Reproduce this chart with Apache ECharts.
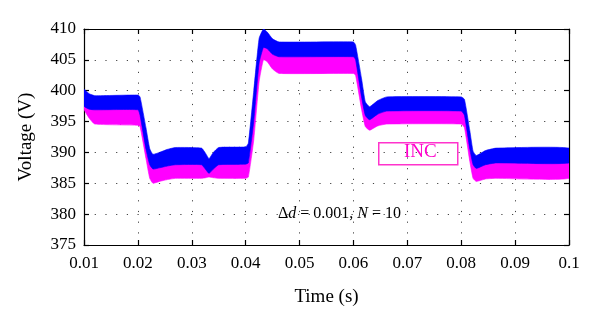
<!DOCTYPE html>
<html><head><meta charset="utf-8">
<script src="https://cdn.jsdelivr.net/npm/echarts@6/dist/echarts.min.js"></script>
<style>html,body{margin:0;padding:0;background:#fff}#c{width:600px;height:324px}</style>
</head><body><div id="c"></div>
<script>
// time (s)
const time = [0.0100,0.0110,0.0120,0.0200,0.0204,0.0215,0.0222,0.0228,0.0240,0.0255,0.0270,0.0318,0.0326,0.0332,0.0340,0.0350,0.0400,0.0405,0.0415,0.0425,0.0433,0.0440,0.0450,0.0462,0.0600,0.0604,0.0615,0.0622,0.0630,0.0645,0.0662,0.0800,0.0806,0.0816,0.0822,0.0828,0.0845,0.0865,0.1000];
// blue band envelope (V)
const blueHigh = [400.2,399.5,399.2,399.3,399.0,394.0,390.6,389.7,390.0,390.5,390.8,390.7,389.8,389.0,390.0,390.8,390.9,391.5,400.0,408.5,410.0,409.5,408.4,407.9,407.9,407.4,402.0,398.2,397.4,398.4,399.0,399.0,398.6,393.5,390.2,389.5,390.3,390.7,390.7];
const blueLow  = [397.5,397.0,396.9,396.9,396.0,390.5,388.0,387.3,387.5,387.8,388.0,388.0,387.2,386.6,387.3,388.0,388.1,388.3,395.0,404.5,407.0,406.8,405.9,405.5,405.5,405.0,399.0,396.0,395.3,396.2,396.7,396.7,396.0,390.5,388.0,387.4,388.0,388.3,388.3];
// magenta band (INC) envelope (V)
const magentaHigh = [398.5,398.0,397.9,397.9,397.0,391.5,389.0,388.3,388.5,388.8,389.0,389.0,388.2,387.6,388.3,389.0,389.1,389.3,396.0,405.5,408.0,407.8,406.9,406.5,406.5,406.0,400.0,397.0,396.3,397.2,397.7,397.7,397.0,391.5,389.0,388.4,389.0,389.3,389.3];
const magentaLow  = [397.0,395.5,394.6,394.4,394.2,389.0,385.8,385.0,385.3,385.6,385.8,385.8,385.9,386.0,385.9,385.8,385.8,386.0,392.0,401.5,405.0,404.7,403.5,402.8,402.8,402.5,397.0,394.2,393.6,394.3,394.6,394.6,394.0,388.5,385.8,385.3,385.7,385.8,385.8];
const legendLabel = 'INC';
const annotation = ['Δ', 'd', ' = 0.001, ', 'N', ' = 10'];

const serif = '"Liberation Serif","DejaVu Serif",serif';
const chart = echarts.init(document.getElementById('c'), null, {renderer:'canvas'});

function band(low, high, color, name){
  return {
    type:'custom', name:name, silent:true, clip:true,
    data:[[time[0], low[0]]],
    renderItem:function(params, api){
      const pts = [];
      for (let i=0;i<time.length;i++) pts.push(api.coord([time[i], high[i]]));
      for (let i=time.length-1;i>=0;i--) pts.push(api.coord([time[i], low[i]]));
      return {type:'polygon', shape:{points:pts, smooth:0.15}, style:{fill:color, stroke:color, lineWidth:0.6}};
    }
  };
}
const dotted = {color:'#444', width:1, type:[1.2,9.5]};
const axisLine = {show:true, lineStyle:{color:'#000', width:1.2}};
const tick = {show:true, inside:true, length:5, lineStyle:{color:'#000', width:1.2}};

chart.setOption({
  animation:false,
  backgroundColor:'#fff',
  grid:{left:84, right:31, top:29, bottom:79, containLabel:false},
  xAxis:[
    {type:'value', min:0.01, max:0.1, interval:0.01, position:'bottom',
     name:'Time (s)', nameLocation:'middle', nameGap:43,
     nameTextStyle:{fontFamily:serif, fontSize:19, color:'#000'},
     axisLine:axisLine, axisTick:tick,
     axisLabel:{margin:10, fontFamily:serif, fontSize:17, color:'#000', formatter:v=>String(+v.toFixed(2))},
     splitLine:{show:true, lineStyle:dotted}},
    {type:'value', min:0.01, max:0.1, interval:0.01, position:'top',
     axisLine:axisLine, axisTick:tick, axisLabel:{show:false}, splitLine:{show:false}}
  ],
  yAxis:[
    {type:'value', min:375, max:410, interval:5, position:'left',
     name:'Voltage (V)', nameLocation:'middle', nameGap:48,
     nameTextStyle:{fontFamily:serif, fontSize:19, color:'#000'},
     axisLine:axisLine, axisTick:tick,
     axisLabel:{margin:8, fontFamily:serif, fontSize:17, color:'#000'},
     splitLine:{show:true, lineStyle:dotted}},
    {type:'value', min:375, max:410, interval:5, position:'right',
     axisLine:axisLine, axisTick:tick, axisLabel:{show:false}, splitLine:{show:false}}
  ],
  series:[
    band(magentaLow, magentaHigh, '#ff00ff', legendLabel),
    band(blueLow, blueHigh, '#0000ff', 'blue')
  ],
  graphic:[
    {type:'rect', left:378, top:142, shape:{width:79, height:22},
     style:{fill:'rgba(0,0,0,0)', stroke:'#ff33cc', lineWidth:1.5}, z:100},
    {type:'text', left:404, top:143, z:101,
     style:{text:legendLabel, fill:'#ff00cc', font:'19px '+serif}},
    {type:'text', left:278, top:206, z:101,
     style:{text:'{a|'+annotation[0]+'}{i|'+annotation[1]+'}{a|'+annotation[2]+'}{i|'+annotation[3]+'}{a|'+annotation[4]+'}',
       rich:{a:{fontFamily:serif, fontSize:16, fill:'#000'}, i:{fontFamily:serif, fontSize:16, fontStyle:'italic', fill:'#000'}}}}
  ]
});
</script></body></html>
